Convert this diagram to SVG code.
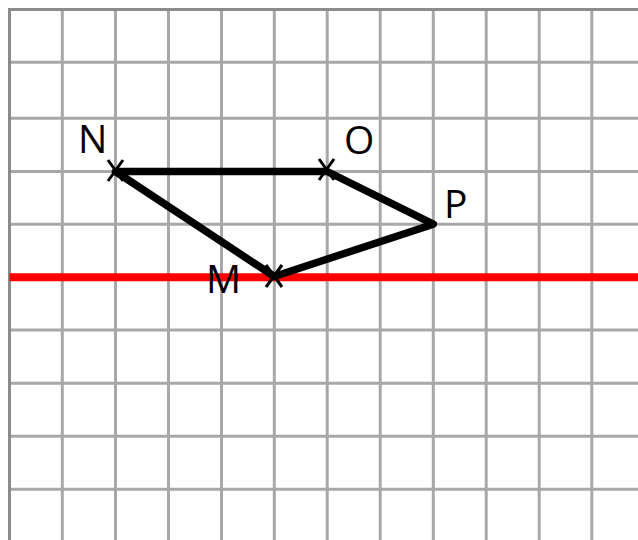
<svg xmlns="http://www.w3.org/2000/svg" width="638" height="540" viewBox="0 0 638 540">
<style>
.grid line{stroke:#a8a8a8;stroke-width:3}
.border{stroke:#8c8c8c;stroke-width:3}
.lbl{font-family:"Open Sans","Noto Sans",sans-serif;font-size:39px;fill:#000}
.mark{stroke:#000;stroke-width:3;fill:none}
</style>
<rect width="638" height="540" fill="#fff"/>
<g class="grid" id="grid">
<line x1="62.3" y1="9.5" x2="62.3" y2="540"/>
<line x1="115.5" y1="9.5" x2="115.5" y2="540"/>
<line x1="168.5" y1="9.5" x2="168.5" y2="540"/>
<line x1="221.5" y1="9.5" x2="221.5" y2="540"/>
<line x1="274.3" y1="9.5" x2="274.3" y2="540"/>
<line x1="327.2" y1="9.5" x2="327.2" y2="540"/>
<line x1="380.2" y1="9.5" x2="380.2" y2="540"/>
<line x1="433.3" y1="9.5" x2="433.3" y2="540"/>
<line x1="486.2" y1="9.5" x2="486.2" y2="540"/>
<line x1="539.2" y1="9.5" x2="539.2" y2="540"/>
<line x1="591.8" y1="9.5" x2="591.8" y2="540"/>
<line x1="9.5" y1="62.2" x2="638" y2="62.2"/>
<line x1="9.5" y1="118.3" x2="638" y2="118.3"/>
<line x1="9.5" y1="171.5" x2="638" y2="171.5"/>
<line x1="9.5" y1="224.2" x2="638" y2="224.2"/>
<line x1="9.5" y1="330" x2="638" y2="330"/>
<line x1="9.5" y1="383.3" x2="638" y2="383.3"/>
<line x1="9.5" y1="436.2" x2="638" y2="436.2"/>
<line x1="9.5" y1="489.2" x2="638" y2="489.2"/>
</g>
<g id="border">
<line class="border" x1="9.5" y1="8" x2="9.5" y2="540"/>
<line class="border" x1="8" y1="9.5" x2="638" y2="9.5"/>
</g>
<g id="axis">
<line x1="9.5" y1="277.3" x2="638" y2="277.3" stroke="#ff0000" stroke-width="8"/>
</g>
<g id="connectors">
<polygon points="115.5,171.5 327.2,171.5 433.3,224.2 274.3,276.5" fill="none" stroke="#000" stroke-width="7.5" stroke-linejoin="round"/>
</g>
<g id="node-N">
<path class="mark" d="M108,160 L123,181 M123,160 L108,181"/>
<text class="lbl" x="78" y="153">N</text>
</g>
<g id="node-O">
<path class="mark" d="M319,159 L334,180 M334,159 L319,180"/>
<text class="lbl" x="344" y="154">O</text>
</g>
<g id="node-P">
<text class="lbl" x="444" y="218">P</text>
</g>
<g id="node-M">
<path class="mark" d="M266,265 L282,287 M282,265 L266,287"/>
<text class="lbl" x="206" y="293">M</text>
</g>
</svg>
